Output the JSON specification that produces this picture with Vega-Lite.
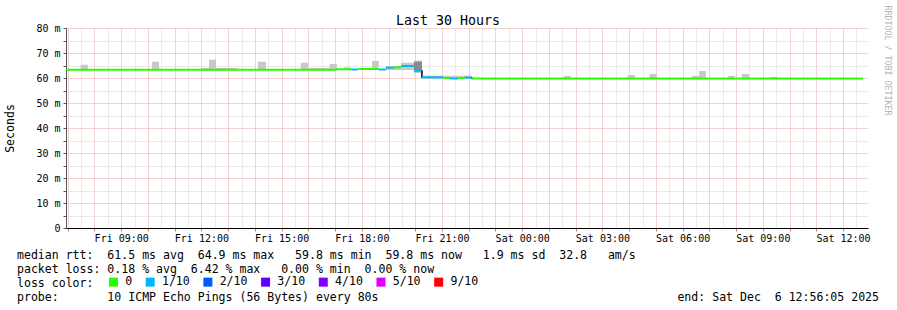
{
  "$schema": "https://vega.github.io/schema/vega-lite/v6.json",
  "width": 802,
  "height": 200,
  "autosize": "none",
  "padding": {"left": 66, "top": 28, "right": 29, "bottom": 82},
  "background": "white",
  "config": {"view": {"stroke": null}, "font": "DejaVu Sans Mono"},
  "title": {
    "text": "Last 30 Hours",
    "font": "DejaVu Sans Mono",
    "fontSize": 13.3,
    "fontWeight": "normal",
    "color": "#000000",
    "anchor": "middle",
    "frame": "group",
    "dx": -19,
    "dy": 22,
    "offset": 0
  },
  "datasets": {
    "smoke": [
      {"start": "2025-12-05T07:29:00", "end": "2025-12-05T07:45:00", "low": 63.0, "high": 65.3, "band": "outer"},
      {"start": "2025-12-05T10:09:00", "end": "2025-12-05T10:25:00", "low": 63.0, "high": 66.5, "band": "outer"},
      {"start": "2025-12-05T11:59:00", "end": "2025-12-05T13:20:00", "low": 63.0, "high": 64.0, "band": "outer"},
      {"start": "2025-12-05T12:17:00", "end": "2025-12-05T12:33:00", "low": 63.0, "high": 67.3, "band": "outer"},
      {"start": "2025-12-05T14:07:00", "end": "2025-12-05T14:25:00", "low": 63.0, "high": 66.5, "band": "outer"},
      {"start": "2025-12-05T15:43:00", "end": "2025-12-05T15:59:00", "low": 63.0, "high": 66.1, "band": "outer"},
      {"start": "2025-12-05T15:59:00", "end": "2025-12-05T16:48:00", "low": 63.0, "high": 64.0, "band": "outer"},
      {"start": "2025-12-05T16:48:00", "end": "2025-12-05T17:04:00", "low": 63.0, "high": 65.6, "band": "outer"},
      {"start": "2025-12-05T17:20:00", "end": "2025-12-05T17:36:00", "low": 63.2, "high": 64.2, "band": "outer"},
      {"start": "2025-12-05T18:23:00", "end": "2025-12-05T18:38:00", "low": 63.2, "high": 66.8, "band": "outer"},
      {"start": "2025-12-05T18:54:00", "end": "2025-12-05T19:28:00", "low": 63.2, "high": 64.8, "band": "outer"},
      {"start": "2025-12-05T19:28:00", "end": "2025-12-05T19:57:00", "low": 63.2, "high": 66.1, "band": "outer"},
      {"start": "2025-12-05T19:57:00", "end": "2025-12-05T20:15:00", "low": 62.0, "high": 67.0, "band": "outer"},
      {"start": "2025-12-05T20:15:00", "end": "2025-12-05T22:07:00", "low": 59.6, "high": 60.9, "band": "outer"},
      {"start": "2025-12-06T01:34:00", "end": "2025-12-06T01:49:00", "low": 59.5, "high": 60.8, "band": "outer"},
      {"start": "2025-12-06T03:57:00", "end": "2025-12-06T04:13:00", "low": 59.5, "high": 61.2, "band": "outer"},
      {"start": "2025-12-06T04:46:00", "end": "2025-12-06T05:02:00", "low": 59.5, "high": 61.6, "band": "outer"},
      {"start": "2025-12-06T06:21:00", "end": "2025-12-06T06:37:00", "low": 59.5, "high": 60.8, "band": "outer"},
      {"start": "2025-12-06T06:37:00", "end": "2025-12-06T06:52:00", "low": 59.5, "high": 62.8, "band": "outer"},
      {"start": "2025-12-06T07:42:00", "end": "2025-12-06T07:57:00", "low": 59.5, "high": 60.8, "band": "outer"},
      {"start": "2025-12-06T08:13:00", "end": "2025-12-06T08:29:00", "low": 59.5, "high": 61.6, "band": "outer"},
      {"start": "2025-12-06T09:16:00", "end": "2025-12-06T09:34:00", "low": 59.5, "high": 60.4, "band": "outer"},
      {"start": "2025-12-05T19:57:00", "end": "2025-12-05T20:15:00", "low": 62.5, "high": 66.5, "band": "inner"}
    ],
    "median": [
      {"start": "2025-12-05T06:57:00", "end": "2025-12-05T17:02:00", "rtt": 63.3, "loss": "0"},
      {"start": "2025-12-05T17:02:00", "end": "2025-12-05T17:36:00", "rtt": 63.5, "loss": "0"},
      {"start": "2025-12-05T17:36:00", "end": "2025-12-05T17:51:00", "rtt": 63.4, "loss": "1/10"},
      {"start": "2025-12-05T17:51:00", "end": "2025-12-05T18:38:00", "rtt": 63.6, "loss": "0"},
      {"start": "2025-12-05T18:38:00", "end": "2025-12-05T18:54:00", "rtt": 63.4, "loss": "1/10"},
      {"start": "2025-12-05T18:54:00", "end": "2025-12-05T19:12:00", "rtt": 64.1, "loss": "1/10"},
      {"start": "2025-12-05T19:12:00", "end": "2025-12-05T19:28:00", "rtt": 64.3, "loss": "0"},
      {"start": "2025-12-05T19:28:00", "end": "2025-12-05T19:57:00", "rtt": 64.8, "loss": "1/10"},
      {"start": "2025-12-05T19:57:00", "end": "2025-12-05T20:15:00", "rtt": 63.1, "loss": "1/10"},
      {"start": "2025-12-05T20:15:00", "end": "2025-12-05T21:02:00", "rtt": 60.3, "loss": "1/10"},
      {"start": "2025-12-05T21:02:00", "end": "2025-12-05T21:18:00", "rtt": 60.0, "loss": "0"},
      {"start": "2025-12-05T21:18:00", "end": "2025-12-05T21:36:00", "rtt": 59.8, "loss": "1/10"},
      {"start": "2025-12-05T21:36:00", "end": "2025-12-05T21:51:00", "rtt": 60.0, "loss": "0"},
      {"start": "2025-12-05T21:51:00", "end": "2025-12-05T22:07:00", "rtt": 60.2, "loss": "1/10"},
      {"start": "2025-12-05T22:07:00", "end": "2025-12-06T12:45:00", "rtt": 59.8, "loss": "0"}
    ],
    "drops": [
      {"time": "2025-12-05T20:15:00", "from": 60.0, "to": 63.2},
      {"time": "2025-12-05T22:07:00", "from": 59.6, "to": 60.3}
    ]
  },
  "resolve": {"axis": {"y": "independent"}},
  "layer": [
    {
      "data": {"name": "smoke"},
      "transform": [{"filter": "datum.band == 'outer'"}],
      "mark": {"type": "rect", "color": "#c8c8c8"},
      "encoding": {
        "x": {
          "field": "start",
          "type": "temporal",
          "scale": {
            "domain": [
              {"year": 2025, "month": 12, "date": 5, "hours": 6, "minutes": 56, "seconds": 5},
              {"year": 2025, "month": 12, "date": 6, "hours": 12, "minutes": 56, "seconds": 5}
            ],
            "nice": false
          },
          "axis": {
            "tickCount": 60,
            "labelExpr": "minutes(datum.value) == 0 && hours(datum.value) % 3 == 0 ? timeFormat(datum.value, '%a %H:%M') : ''",
            "labelFont": "DejaVu Sans Mono",
            "labelFontSize": 10,
            "labelColor": "#000000",
            "labelPadding": 2,
            "labelFlush": false,
            "labelOverlap": false,
            "labelBound": false,
            "grid": true,
            "gridColor": {"condition": {"test": "minutes(datum.value) == 0", "value": "#eba4a4"}, "value": "#d4d4d4"},
            "gridDash": [1, 1],
            "gridWidth": 1,
            "ticks": true,
            "tickSize": 3,
            "tickColor": "#e07070",
            "tickOpacity": {"condition": {"test": "minutes(datum.value) == 0", "value": 1}, "value": 0},
            "domainColor": "#000000",
            "domainWidth": 1,
            "title": [
              "median rtt:\u00a0\u00a061.5 ms avg\u00a0\u00a064.9 ms max\u00a0\u00a0\u00a059.8 ms min\u00a0\u00a059.8 ms now\u00a0\u00a0\u00a01.9 ms sd\u00a0\u00a032.8\u00a0\u00a0\u00a0am/s",
              "packet loss: 0.18 % avg\u00a0\u00a06.42 % max\u00a0\u00a0\u00a00.00 % min\u00a0\u00a00.00 % now",
              "loss color:",
              "probe:\u00a0\u00a0\u00a0\u00a0\u00a0\u00a0\u00a010 ICMP Echo Pings (56 Bytes) every 80s\u00a0\u00a0\u00a0\u00a0\u00a0\u00a0\u00a0\u00a0\u00a0\u00a0\u00a0\u00a0\u00a0\u00a0\u00a0\u00a0\u00a0\u00a0\u00a0\u00a0\u00a0\u00a0\u00a0\u00a0\u00a0\u00a0\u00a0\u00a0\u00a0\u00a0\u00a0\u00a0\u00a0\u00a0\u00a0\u00a0\u00a0\u00a0\u00a0\u00a0\u00a0\u00a0\u00a0end: Sat Dec\u00a0\u00a06 12:56:05 2025"
            ],
            "titleX": -49.5,
            "titleY": 30.3,
            "titleAlign": "left",
            "titleBaseline": "alphabetic",
            "titleFont": "DejaVu Sans Mono",
            "titleFontSize": 11.55,
            "titleFontWeight": "normal",
            "titleColor": "#000000",
            "titleLineHeight": 14,
            "titleLimit": 3000
          }
        },
        "x2": {"field": "end"},
        "y": {
          "field": "low",
          "type": "quantitative",
          "scale": {"domain": [0, 80], "nice": false, "zero": true},
          "axis": {
            "orient": "left",
            "values": [0, 5, 10, 15, 20, 25, 30, 35, 40, 45, 50, 55, 60, 65, 70, 75, 80],
            "labelExpr": "datum.value % 10 == 0 ? (datum.value == 0 ? '0\u00a0\u00a0' : datum.value + ' m') : ''",
            "labelFont": "DejaVu Sans Mono",
            "labelFontSize": 10,
            "labelColor": "#000000",
            "labelPadding": 3,
            "labelOverlap": false,
            "labelFlush": false,
            "grid": true,
            "gridColor": {"condition": {"test": "datum.value % 10 == 0", "value": "#eba4a4"}, "value": "#d4d4d4"},
            "gridDash": [1, 1],
            "gridWidth": 1,
            "tickSize": 3,
            "tickColor": "#555555",
            "domainColor": "#555555",
            "title": "Seconds",
            "titleX": -55.5,
            "titleY": 100,
            "titleAngle": 270,
            "titleAlign": "center",
            "titleBaseline": "middle",
            "titleFont": "DejaVu Sans Mono",
            "titleFontSize": 11.55,
            "titleFontWeight": "normal",
            "titleColor": "#000000"
          }
        },
        "y2": {"field": "high"}
      }
    },
    {
      "data": {"name": "smoke"},
      "transform": [{"filter": "datum.band == 'inner'"}],
      "mark": {"type": "rect", "color": "#8a8a8a"},
      "encoding": {
        "x": {"field": "start", "type": "temporal"},
        "x2": {"field": "end"},
        "y": {"field": "low", "type": "quantitative", "axis": null},
        "y2": {"field": "high"}
      }
    },
    {
      "data": {"name": "drops"},
      "mark": {"type": "rule", "color": "#000000", "strokeWidth": 1.5},
      "encoding": {
        "x": {"field": "time", "type": "temporal"},
        "y": {"field": "from", "type": "quantitative", "axis": null},
        "y2": {"field": "to"}
      }
    },
    {
      "data": {"name": "median"},
      "mark": {"type": "rule", "strokeWidth": 2},
      "encoding": {
        "x": {"field": "start", "type": "temporal"},
        "x2": {"field": "end"},
        "y": {
          "field": "rtt",
          "type": "quantitative",
          "axis": {
            "orient": "right",
            "title": "RRDTOOL / TOBI OETIKER",
            "labels": false,
            "ticks": false,
            "domain": false,
            "grid": false,
            "titleAngle": 90,
            "titleX": 18,
            "titleY": 32,
            "titleAlign": "center",
            "titleBaseline": "middle",
            "titleFont": "DejaVu Sans Mono",
            "titleFontSize": 8.3,
            "titleFontWeight": "normal",
            "titleColor": "#b4b4b4"
          }
        },
        "color": {
          "field": "loss",
          "type": "nominal",
          "scale": {
            "domain": ["0", "1/10", "2/10", "3/10", "4/10", "5/10", "9/10"],
            "range": ["#26ff00", "#00b8ff", "#0059ff", "#5e00ff", "#7e00ff", "#dd00ff", "#ff0000"]
          },
          "legend": {
            "orient": "none",
            "legendX": 41.7,
            "legendY": 248,
            "direction": "horizontal",
            "title": null,
            "labelFont": "DejaVu Sans Mono",
            "labelFontSize": 11.55,
            "labelColor": "#000000",
            "labelOffset": 6,
            "columnPadding": 0.7,
            "symbolType": "square",
            "symbolSize": 1,
            "symbolStrokeWidth": 8,
            "symbolOpacity": 1,
            "padding": 0
          }
        }
      }
    }
  ]
}
